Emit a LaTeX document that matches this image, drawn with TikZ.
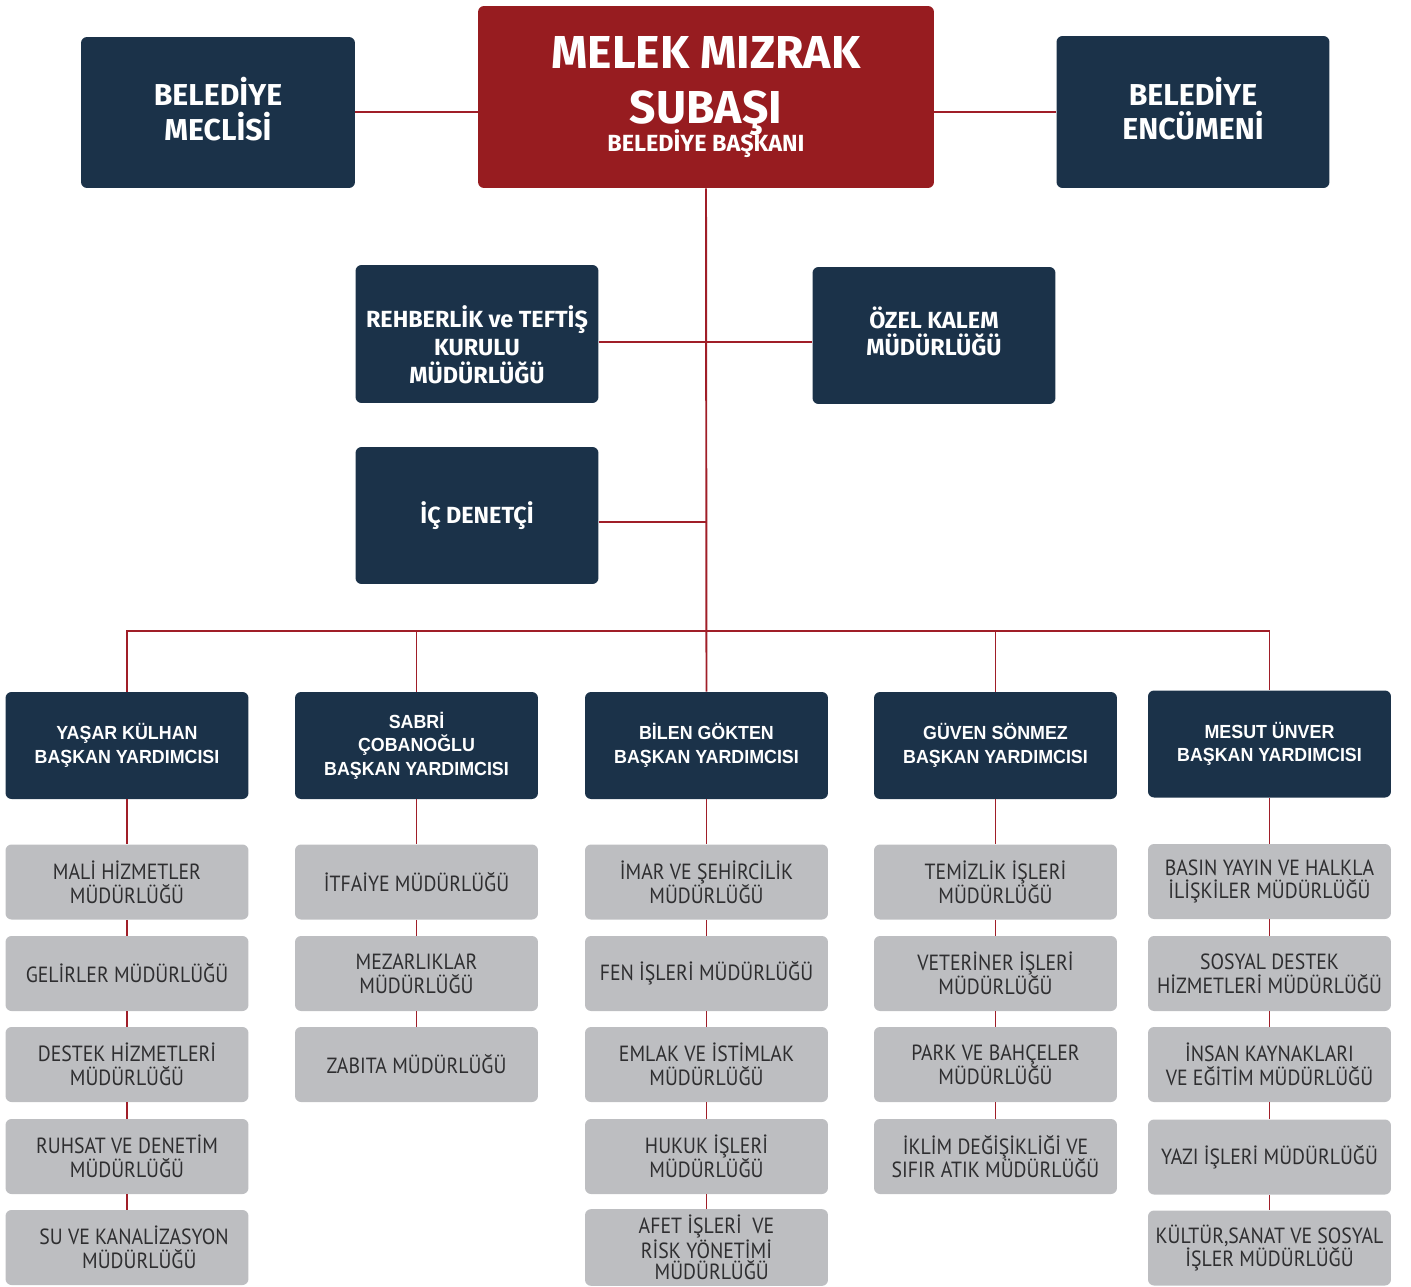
\documentclass[tikz,border=0pt]{standalone}
\usepackage{fontspec}
\setmainfont{PT Sans}
\newfontfamily\unitfont{PT Sans}[FakeStretch=0.9]
\newfontfamily\headfont{Fira Sans}
\newfontfamily\depfont{Liberation Sans}[FakeStretch=0.94]
\begin{document}
\begin{tikzpicture}[x=0.02cm,y=-0.02cm]
      \newcommand{\nudge}[2]{\raisebox{-#1}[\height][\depth]{\parbox{4.7cm}{\centering #2}}}

      \definecolor{navy}{HTML}{1B3249}
      \definecolor{mayorred}{HTML}{971C20}
      \definecolor{lightgray}{HTML}{BDBEC1}
      \definecolor{textgray}{HTML}{2E2E30}
      \definecolor{linered}{HTML}{A01E28}

      \tikzstyle{headbox}=[
        fill=navy,
        rounded corners=0.12cm,
        text=white,
        align=center,
        inner xsep=1pt,
        font=\headfont\bfseries,
        anchor=center
      ]
      \tikzstyle{depbox}=[
        fill=navy,
        rounded corners=0.12cm,
        text=white,
        align=center,
        minimum width=4.86cm,
        minimum height=2.14cm,
        font=\depfont\bfseries\fontsize{10.8}{13.3}\selectfont
      ]
      \tikzstyle{unitbox}=[
        fill=lightgray,
        rounded corners=0.12cm,
        text=textgray,
        align=center,
        inner xsep=2pt,
        minimum width=4.86cm,
        minimum height=1.5cm,
        font=\unitfont\fontsize{12.5}{13.6}\selectfont
      ]
      \tikzstyle{line} = [line width=1.1pt, draw=linered]

      \useasboundingbox (0,0) rectangle (1411,1286);

      % top row
      \node[headbox, fill=mayorred, minimum width=9.12cm, minimum height=3.64cm,
            font=\headfont\bfseries\fontsize{26.3}{31}\selectfont] (mayor) at (706,97)
            {MELEK MIZRAK\\SUBAŞI\\[-15pt]{\fontsize{13.3}{14}\selectfont BELEDİYE BAŞKANI}};
      \node[headbox, minimum width=5.48cm, minimum height=3.02cm,
            font=\headfont\bfseries\fontsize{17.2}{19.8}\selectfont] (meclis) at (218,112.5)
            {\nudge{-2pt}{BELEDİYE\\MECLİSİ}};
      \node[headbox, minimum width=5.46cm, minimum height=3.04cm,
            font=\headfont\bfseries\fontsize{17.2}{19.8}\selectfont] (encumen) at (1193,112)
            {\nudge{-2pt}{BELEDİYE\\ENCÜMENİ}};

      % staff units
      \node[headbox, minimum width=4.86cm, minimum height=2.76cm,
            font=\headfont\bfseries\fontsize{13.3}{16}\selectfont] (rehber) at (477,334)
            {\nudge{6pt}{REHBERLİK ve TEFTİŞ\\KURULU\\MÜDÜRLÜĞÜ}};
      \node[headbox, minimum width=4.86cm, minimum height=2.74cm,
            font=\headfont\bfseries\fontsize{13.3}{15.5}\selectfont] (ozel) at (934,335.5)
            {\nudge{-2.5pt}{ÖZEL KALEM\\MÜDÜRLÜĞÜ}};
      \node[headbox, minimum width=4.86cm, minimum height=2.74cm,
            font=\headfont\bfseries\fontsize{13.3}{15.5}\selectfont] (icdenetci) at (477,515.5)
            {İÇ DENETÇİ};

      % deputies
      \node[depbox] (yasar) at (127,745.5) {YAŞAR KÜLHAN\\BAŞKAN YARDIMCISI};
      \node[depbox] (sabri) at (416.5,745.5) {SABRİ\\ÇOBANOĞLU\\BAŞKAN YARDIMCISI};
      \node[depbox] (bilen) at (706.5,745.5) {BİLEN GÖKTEN\\BAŞKAN YARDIMCISI};
      \node[depbox] (guven) at (995.5,745.5) {GÜVEN SÖNMEZ\\BAŞKAN YARDIMCISI};
      \node[depbox] (mesut) at (1269.5,744) {MESUT ÜNVER\\BAŞKAN YARDIMCISI};

      % units of yasar
      \node[unitbox] (mali)    at (127,882)    {MALİ HİZMETLER\\MÜDÜRLÜĞÜ};
      \node[unitbox] (gelir)   at (127,973.5)  {GELİRLER MÜDÜRLÜĞÜ};
      \node[unitbox] (destek)  at (127,1064.5) {DESTEK HİZMETLERİ\\MÜDÜRLÜĞÜ};
      \node[unitbox] (ruhsat)  at (127,1156.5) {RUHSAT VE DENETİM\\MÜDÜRLÜĞÜ};
      \node[unitbox] (su)      at (127,1247.5) {\hspace{8pt}SU VE KANALİZASYON\\\hspace{14pt}MÜDÜRLÜĞÜ};

      % units of sabri
      \node[unitbox] (itfaiye) at (416.5,882)    {İTFAİYE MÜDÜRLÜĞÜ};
      \node[unitbox] (mezar)   at (416.5,973.5)  {MEZARLIKLAR\\MÜDÜRLÜĞÜ};
      \node[unitbox] (zabita)  at (416.5,1064.5) {ZABITA MÜDÜRLÜĞÜ};

      % units of bilen
      \node[unitbox] (imar)    at (706.5,882)    {İMAR VE ŞEHİRCİLİK\\MÜDÜRLÜĞÜ};
      \node[unitbox] (fen)     at (706.5,973.5)  {FEN İŞLERİ MÜDÜRLÜĞÜ};
      \node[unitbox] (emlak)   at (706.5,1064.5) {EMLAK VE İSTİMLAK\\MÜDÜRLÜĞÜ};
      \node[unitbox] (hukuk)   at (706.5,1156.5) {HUKUK İŞLERİ\\MÜDÜRLÜĞÜ};
      \node[unitbox, font=\unitfont\fontsize{12.5}{12}\selectfont] (afet) at (706.5,1247.5)
            {AFET İŞLERİ\ \ VE\\RİSK YÖNETİMİ\\\hspace{6pt}MÜDÜRLÜĞÜ};

      % units of guven
      \node[unitbox] (temiz)   at (995.5,882)    {TEMİZLİK İŞLERİ\\MÜDÜRLÜĞÜ};
      \node[unitbox] (veter)   at (995.5,973.5)  {VETERİNER İŞLERİ\\MÜDÜRLÜĞÜ};
      \node[unitbox] (park)    at (995.5,1064.5) {PARK VE BAHÇELER\\MÜDÜRLÜĞÜ};
      \node[unitbox] (iklim)   at (995.5,1156.5) {İKLİM DEĞİŞİKLİĞİ VE\\SIFIR ATIK MÜDÜRLÜĞÜ};

      % units of mesut
      \node[unitbox] (basin)   at (1269.5,881.5)  {BASIN YAYIN VE HALKLA\\İLİŞKİLER MÜDÜRLÜĞÜ};
      \node[unitbox] (sosyal)  at (1269.5,973.5)  {SOSYAL DESTEK\\HİZMETLERİ MÜDÜRLÜĞÜ};
      \node[unitbox] (insan)   at (1269.5,1064.5) {İNSAN KAYNAKLARI\\VE EĞİTİM MÜDÜRLÜĞÜ};
      \node[unitbox] (yazi)    at (1269.5,1157)   {YAZI İŞLERİ MÜDÜRLÜĞÜ};
      \node[unitbox] (kultur)  at (1269.5,1248)   {KÜLTÜR,SANAT VE SOSYAL\\İŞLER MÜDÜRLÜĞÜ};

      \coordinate (spineA) at (706,342);
      \coordinate (spineB) at (706,522);
      \coordinate (bus)    at (706,631);
      \coordinate (topline) at (706,112);

      % connectors at the top
      \draw[line] (meclis.east |- topline) -- (mayor.west |- topline);
      \draw[line] (encumen.west |- topline) -- (mayor.east |- topline);
      \draw[line] (mayor.south) -- (bilen.north);
      \draw[line] (rehber.east |- spineA) -- (ozel.west |- spineA);
      \draw[line] (icdenetci.east |- spineB) -- (spineB);
      \draw[line] (yasar.north) |- (bus) -| (mesut.north);
      \draw[line] (sabri.north) -- (sabri.north |- bus);
      \draw[line] (guven.north) -- (guven.north |- bus);

      % connectors in the columns
      \draw[line] (yasar) -- (mali);
      \draw[line] (mali) -- (gelir);
      \draw[line] (gelir) -- (destek);
      \draw[line] (destek) -- (ruhsat);
      \draw[line] (ruhsat) -- (su);
      \draw[line] (sabri) -- (itfaiye);
      \draw[line] (itfaiye) -- (mezar);
      \draw[line] (mezar) -- (zabita);
      \draw[line] (bilen) -- (imar);
      \draw[line] (imar) -- (fen);
      \draw[line] (fen) -- (emlak);
      \draw[line] (emlak) -- (hukuk);
      \draw[line] (hukuk) -- (afet);
      \draw[line] (guven) -- (temiz);
      \draw[line] (temiz) -- (veter);
      \draw[line] (veter) -- (park);
      \draw[line] (park) -- (iklim);
      \draw[line] (mesut) -- (basin);
      \draw[line] (basin) -- (sosyal);
      \draw[line] (sosyal) -- (insan);
      \draw[line] (insan) -- (yazi);
      \draw[line] (yazi) -- (kultur);
    \end{tikzpicture}
\end{document}
